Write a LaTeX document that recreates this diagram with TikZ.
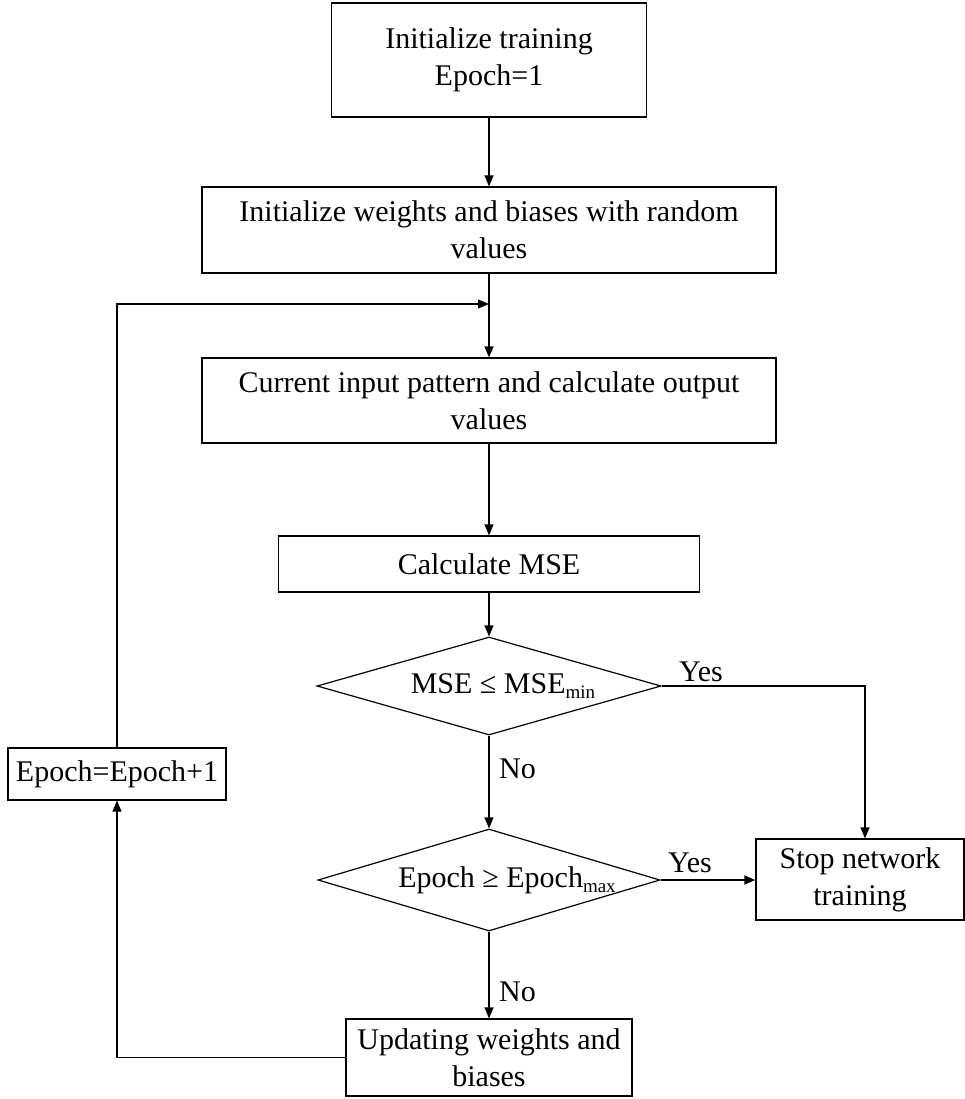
\documentclass[tikz,border=0pt]{standalone}
\usepackage{fontspec}
\setmainfont{Liberation Serif}
\usetikzlibrary{shapes.geometric,arrows.meta,calc}
\newcommand\subtxt[1]{\raisebox{-5pt}{\fontsize{19}{20}\selectfont #1}}
\begin{document}
\begin{tikzpicture}[x=1pt,y=-1pt, font=\fontsize{30}{37}\selectfont,
  box/.style={draw, line width=1.2pt, rectangle, align=center, inner sep=0pt},
  dec/.style={draw, line width=1.2pt, diamond, aspect=3.5, inner sep=0pt},
  conn/.style={line width=1.2pt},
  arr/.style={conn, -{Triangle[length=11pt,width=9pt]}},
  lbl/.style={anchor=base west, inner sep=0pt}]
\useasboundingbox (0,0) rectangle (965,1099);
\node[box, minimum width=315pt, minimum height=114pt] (b1) at (489,60) {Initialize training\\Epoch=1};
\node[box, minimum width=574pt, minimum height=86pt] (b2) at (489,230) {Initialize weights and biases with random\\values};
\node[box, minimum width=574pt, minimum height=85pt] (b3) at (489,400.5) {Current input pattern and calculate output\\values};
\node[box, minimum width=421pt, minimum height=56pt] (b4) at (489,564) {Calculate MSE};
\node[dec, minimum width=344pt, minimum height=98pt,
  label={[xshift=14pt, inner sep=0pt]center:MSE ≤ MSE\subtxt{min}}] (d1) at (489,686) {};
\node[dec, minimum width=342pt, minimum height=102pt,
  label={[xshift=18pt, inner sep=0pt]center:Epoch ≥ Epoch\subtxt{max}}] (d2) at (489,880) {};
\node[box, minimum width=208pt, minimum height=81pt] (stop) at (860,879.5) {Stop network\\training};
\node[box, minimum width=218pt, minimum height=52pt] (ep) at (117,774) {Epoch=Epoch+1};
\node[box, minimum width=286pt, minimum height=77pt] (upd) at (489,1057.5) {Updating weights and\\biases};
\coordinate (j) at (489,304);
\draw[arr] (b1) -- (b2);
\draw[arr] (b2) -- (b3);
\draw[arr] (ep.north) |- (j);
\draw[arr] (b3) -- (b4);
\draw[arr] (b4) -- (d1);
\draw[arr] (d1.east) -| ([xshift=5pt]stop.north);
\draw[arr] (d1) -- (d2);
\draw[arr] (d2.east) -- (d2.east -| stop.west);
\draw[arr] (d2) -- (upd);
\draw[arr] (upd.west) -| (ep.south);
\node[lbl] (y1) at (679,681) {Yes};
\node[lbl] (y2) at (668,872) {Yes};
\node[lbl] (n1) at (499,778) {No};
\node[lbl] (n2) at (499,1001) {No};
\end{tikzpicture}
\end{document}
